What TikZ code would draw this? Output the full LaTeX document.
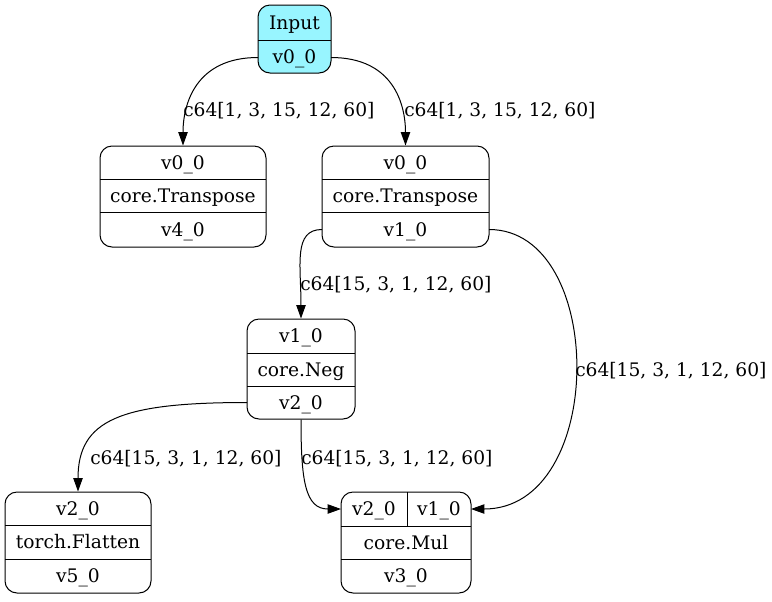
\documentclass[tikz,border=0pt]{standalone}
\usepackage{fontspec}
\setmainfont{DejaVu Serif}
\usetikzlibrary{arrows.meta}
\definecolor{incyan}{RGB}{152,245,255}
\tikzset{
  rec/.style={draw=black, line width=0.75pt, rounded corners=9pt, inner sep=0pt},
  sep/.style={draw=black, line width=0.75pt},
  txt/.style={inner sep=0pt, font=\fontsize{14pt}{16pt}\selectfont, text height=11pt, text depth=1.2pt},
  elbl/.style={inner sep=0pt, anchor=west, font=\fontsize{14pt}{16pt}\selectfont, text height=11pt, text depth=1.2pt},
  edge/.style={draw=black, line width=0.75pt, -{Triangle[length=10pt,width=7pt]}}
}
\begin{document}
\begin{tikzpicture}[x=0.75pt,y=-0.75pt]
\useasboundingbox (0,0) rectangle (772,601);
% Input
\node[rec, fill=incyan, minimum width=54.75pt, minimum height=51pt] (In) at (294.5,39) {};
\draw[sep] (258,40) -- (331,40);
\node[txt] (In1) at (294.5,22.5) {Input};
\node[txt] (In2) at (294.5,56.5) {v0\_0};
\coordinate (InL) at (258,57.5);
\coordinate (InR) at (331,57.5);
% A
\node[rec, minimum width=124.5pt, minimum height=75.75pt] (A) at (183,196.5) {};
\draw[sep] (100,179) -- (266,179);
\draw[sep] (100,212) -- (266,212);
\node[txt] (A1) at (183,162.5) {v0\_0};
\node[txt] (A2) at (183,195.5) {core.Transpose};
\node[txt] (A3) at (183,229.5) {v4\_0};
% B
\node[rec, minimum width=125.25pt, minimum height=75.75pt] (B) at (405.5,196.5) {};
\draw[sep] (322,179) -- (489,179);
\draw[sep] (322,212) -- (489,212);
\node[txt] (B1) at (405.5,162.5) {v0\_0};
\node[txt] (B2) at (405.5,195.5) {core.Transpose};
\node[txt] (B3) at (405.5,229.5) {v1\_0};
\coordinate (BL) at (322,229.5);
\coordinate (BR) at (489,229.5);
% Neg
\node[rec, minimum width=81pt, minimum height=75pt] (N) at (301,369) {};
\draw[sep] (247,353) -- (355,353);
\draw[sep] (247,386) -- (355,386);
\node[txt] (N1) at (301,336) {v1\_0};
\node[txt] (N2) at (301,369.5) {core.Neg};
\node[txt] (N3) at (301,402.5) {v2\_0};
\coordinate (NL) at (247,402.5);
% Flatten
\node[rec, minimum width=109.5pt, minimum height=75.75pt] (F) at (78,542.5) {};
\draw[sep] (5,525) -- (151,525);
\draw[sep] (5,559) -- (151,559);
\node[txt] (F1) at (78,508.5) {v2\_0};
\node[txt] (F2) at (78,542) {torch.Flatten};
\node[txt] (F3) at (78,576) {v5\_0};
% Mul
\node[rec, minimum width=97.5pt, minimum height=75.75pt] (M) at (406,542.5) {};
\draw[sep] (341,526) -- (471,526);
\draw[sep] (341,559) -- (471,559);
\draw[sep] (407,492) -- (407,526);
\node[txt] (M1) at (374,509) {v2\_0};
\node[txt] (M2) at (439,509) {v1\_0};
\node[txt] (M3) at (406,542.5) {core.Mul};
\node[txt] (M4) at (406,576) {v3\_0};
\coordinate (ML) at (341,509);
\coordinate (MR) at (471,509);
% edges
\draw[edge] (InL) .. controls (195,57.5) and (183,105) .. (A.north);
\draw[edge] (InR) .. controls (394,57.5) and (405.5,105) .. (B.north);
\draw[edge] (BL) .. controls (293,229.5) and (301,265) .. (N.north);
\draw[edge] (BR) .. controls (607,229.5) and (607,509) .. (MR);
\draw[edge] (NL) .. controls (120,402.5) and (78,420) .. (F.north);
\draw[edge] (N.south) .. controls (301,480) and (305,509) .. (ML);
% labels
\node[elbl] (L1) at (183,109.5) {c64[1, 3, 15, 12, 60]};
\node[elbl] (L2) at (404,109.5) {c64[1, 3, 15, 12, 60]};
\node[elbl] (L3) at (300,284) {c64[15, 3, 1, 12, 60]};
\node[elbl] (L4) at (575,370) {c64[15, 3, 1, 12, 60]};
\node[elbl] (L5) at (90,458) {c64[15, 3, 1, 12, 60]};
\node[elbl] (L6) at (301,458) {c64[15, 3, 1, 12, 60]};
\end{tikzpicture}
\end{document}
